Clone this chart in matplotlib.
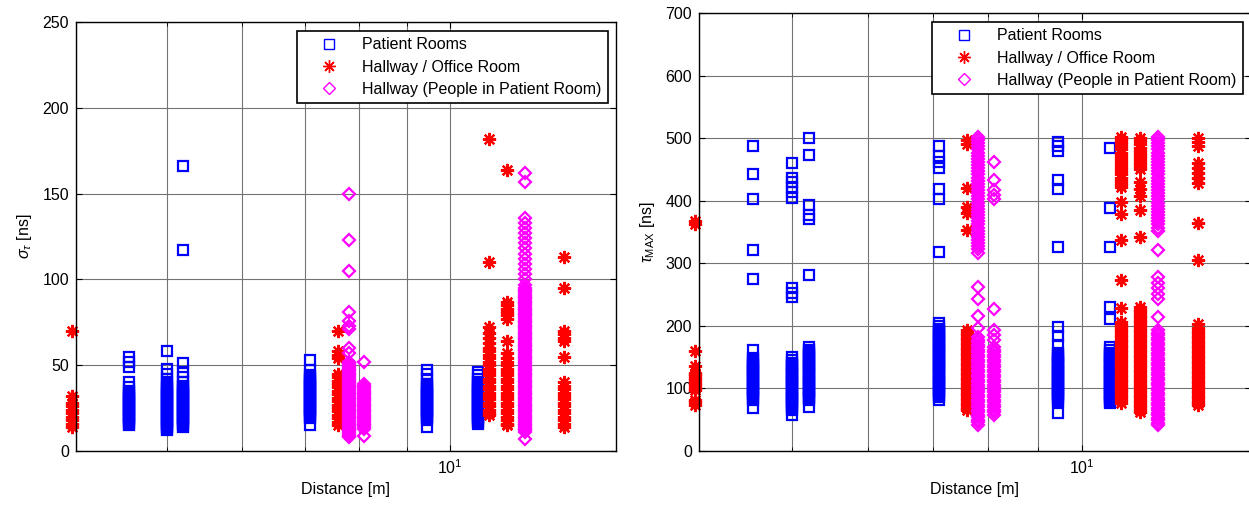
import matplotlib
matplotlib.use('Agg')
import matplotlib.pyplot as plt
from matplotlib.ticker import LogLocator, NullFormatter, FixedLocator

plt.rcParams['font.family'] = ['Liberation Sans', 'DejaVu Sans']
plt.rcParams['mathtext.fontset'] = 'custom'
plt.rcParams['mathtext.rm'] = 'Liberation Sans'
plt.rcParams['mathtext.it'] = 'Liberation Sans:italic'
plt.rcParams['font.size'] = 11.5

labels = ['Patient Rooms', 'Hallway / Office Room', 'Hallway (People in Patient Room)']

# distances [m] of each measurement column
dist_pr = [4.55, 5.0, 5.2, 7.1, 9.45, 10.7]
dist_ho = [3.96, 7.6, 11.0, 11.5, 13.2]
dist_pp = [7.8, 8.1, 12.0]

# RMS delay spread sigma_tau [ns]
sig_pr = [
    [55, 52, 49, 40, 37, 35, 34, 33, 32, 31, 30, 29, 28, 27, 26, 25, 24, 23, 22, 21, 20, 19, 18, 17, 16, 15],
    [58, 48, 45, 42, 40, 38, 37, 36, 35, 34, 33, 32, 31, 30, 29, 28, 27, 26, 25, 24, 23, 22, 21, 20, 19, 18, 17, 16, 15, 14, 13, 12],
    [166, 117, 51, 46, 43, 40, 38, 37, 36, 35, 34, 33, 32, 31, 30, 29, 28, 27, 26, 25, 24, 23, 22, 21, 20, 19, 18, 17, 16, 15, 14],
    [53, 47, 44, 43, 42, 41, 40, 39, 38, 37, 36, 35, 34, 33, 32, 31, 30, 29, 28, 27, 26, 25, 24, 23, 22, 21, 20, 19, 15],
    [47, 45, 42, 39, 38, 37, 36, 35, 34, 33, 32, 31, 30, 29, 28, 27, 26, 25, 24, 23, 22, 21, 20, 19, 18, 14],
    [46, 44, 42, 40, 39, 38, 37, 36, 35, 34, 33, 32, 31, 30, 29, 28, 27, 26, 25, 24, 23, 22, 21, 20, 19, 18, 17, 16],
]
sig_ho = [
    [70, 32, 28, 26, 24, 22, 20, 18, 16, 14],
    [70, 58, 56, 54, 45, 43, 41, 39, 37, 35, 33, 31, 29, 27, 25, 23, 21, 19, 17, 15],
    [182, 110, 72, 69, 66, 63, 60, 58, 56, 54, 52, 50, 48, 46, 44, 42, 40, 38, 36, 34, 32, 30, 28, 26, 24, 22, 21],
    [164, 87, 85, 83, 81, 79, 77, 64, 57, 54, 52, 50, 48, 46, 44, 42, 40, 38, 36, 34, 32, 30, 28, 26, 24, 22, 20, 18, 16, 15],
    [113, 95, 70, 68, 66, 64, 55, 40, 38, 36, 34, 32, 30, 28, 26, 24, 22, 20, 18, 16, 14],
]
sig_pp = [
    [150, 123, 105, 81, 76, 73, 71, 60, 57, 52, 51, 50, 49, 48, 47, 46, 45, 44, 43, 42, 41, 40, 39, 38, 37, 36,
     35, 34, 33, 32, 31, 30, 29, 28, 27, 26, 25, 24, 23, 22, 21, 20, 19, 18, 17, 16, 15, 14, 13, 12, 11, 10, 9, 8],
    [52, 39, 38, 37, 36, 35, 34, 33, 32, 31, 30, 29, 28, 27, 26, 25, 24, 23, 22, 21, 20, 19, 18, 17, 16, 15, 14, 13, 9],
    [162, 157, 136, 133, 130, 127, 124, 121, 118, 115, 112, 109, 106, 103, 100, 97, 95, 94, 93, 92, 91, 90, 89, 88,
     87, 86, 85, 84, 83, 82, 81, 80, 79, 78, 77, 76, 75, 74, 73, 72, 71, 70, 69, 68, 67, 66, 65, 64, 63, 62, 61, 60,
     59, 58, 57, 56, 55, 54, 53, 52, 51, 50, 49, 48, 47, 46, 45, 44, 43, 42, 41, 40, 39, 38, 37, 36, 35, 34, 33, 32,
     31, 30, 29, 28, 27, 26, 25, 24, 23, 22, 21, 20, 19, 18, 17, 16, 15, 14, 13, 12, 11, 7],
]

# maximum excess delay tau_MAX [ns]
tau_pr = [
    [487, 442, 402, 321, 275, 162, 148, 145, 142, 139, 136, 133, 130, 127, 124, 121, 118, 115, 112, 109, 106, 103,
     100, 97, 94, 91, 88, 85, 82, 69],
    [460, 437, 430, 422, 414, 405, 261, 253, 246, 150, 145, 141, 138, 135, 132, 129, 126, 123, 120, 117, 114, 111,
     108, 105, 102, 99, 96, 93, 90, 87, 84, 81, 78, 75, 72, 69, 66, 58],
    [500, 473, 393, 377, 370, 281, 166, 162, 159, 156, 153, 150, 147, 144, 141, 138, 135, 132, 129, 126, 123, 120,
     117, 114, 111, 108, 105, 102, 99, 96, 93, 90, 87, 84, 81, 71],
    [488, 471, 462, 452, 418, 402, 318, 205, 199, 195, 192, 189, 186, 183, 180, 177, 174, 171, 168, 165, 162, 159,
     156, 153, 150, 147, 144, 141, 138, 135, 132, 129, 126, 123, 120, 117, 114, 111, 108, 105, 102, 99, 96, 93, 90,
     87, 82],
    [494, 487, 480, 433, 418, 326, 198, 183, 170, 157, 154, 151, 148, 145, 142, 139, 136, 133, 130, 127, 124, 121,
     118, 115, 112, 109, 106, 103, 100, 97, 94, 91, 88, 85, 82, 78, 60],
    [485, 388, 326, 230, 211, 166, 161, 157, 154, 151, 148, 145, 142, 139, 136, 133, 130, 127, 124, 121, 118, 115,
     112, 109, 106, 103, 100, 97, 94, 91, 88, 85, 82, 79, 77],
]
tau_ho = [
    [367, 362, 160, 136, 125, 121, 117, 113, 109, 105, 101, 97, 82, 78, 74],
    [497, 490, 420, 390, 380, 353, 193, 189, 185, 181, 177, 173, 169, 165, 161, 157, 153, 149, 145, 141, 137, 133,
     129, 125, 121, 117, 113, 109, 105, 101, 97, 93, 89, 85, 81, 77, 73, 69, 66],
    [502, 497, 492, 487, 482, 477, 472, 467, 462, 457, 452, 447, 442, 437, 432, 427, 422, 398, 378, 337, 273, 228,
     206, 202, 198, 194, 190, 186, 182, 178, 174, 170, 166, 162, 158, 154, 150, 146, 142, 138, 134, 130, 126, 122,
     118, 114, 110, 106, 102, 98, 94, 90, 86, 82, 77],
    [500, 495, 490, 485, 480, 475, 470, 465, 460, 455, 450, 430, 418, 408, 385, 342, 230, 226, 222, 218, 214, 210,
     206, 202, 198, 194, 190, 186, 182, 178, 174, 170, 166, 162, 158, 154, 150, 146, 142, 138, 134, 130, 126, 122,
     118, 114, 110, 106, 102, 98, 94, 90, 86, 82, 78, 74, 70, 66, 62],
    [500, 494, 488, 460, 452, 444, 436, 429, 364, 306, 203, 196, 192, 188, 184, 180, 176, 172, 168, 164, 160, 156,
     152, 148, 144, 140, 136, 132, 128, 124, 120, 116, 112, 108, 104, 100, 96, 92, 88, 84, 80, 76, 74],
]
tau_pp = [
    [502, 497, 492, 487, 482, 477, 472, 467, 462, 457, 452, 447, 442, 437, 432, 427, 422, 417, 412, 407, 402, 397,
     392, 387, 382, 377, 372, 367, 362, 357, 352, 347, 342, 337, 332, 327, 322, 316, 262, 243, 216, 196, 182, 178,
     174, 170, 166, 162, 158, 154, 150, 146, 142, 138, 134, 130, 126, 122, 118, 114, 110, 106, 102, 98, 94, 90, 86,
     82, 78, 74, 70, 66, 62, 58, 54, 50, 46, 42],
    [462, 433, 417, 409, 402, 227, 193, 185, 177, 166, 162, 158, 154, 150, 146, 142, 138, 134, 130, 126, 122, 118,
     114, 110, 106, 102, 98, 94, 90, 86, 82, 78, 74, 70, 66, 62, 58],
    [502, 497, 492, 487, 482, 477, 472, 467, 462, 457, 452, 447, 442, 437, 432, 427, 422, 417, 412, 407, 402, 397,
     392, 387, 382, 377, 372, 367, 362, 357, 352, 321, 278, 269, 260, 251, 243, 214, 193, 189, 185, 181, 177, 173,
     169, 165, 161, 157, 153, 149, 145, 141, 137, 133, 129, 125, 121, 117, 113, 109, 105, 101, 97, 93, 89, 85, 81,
     77, 73, 69, 65, 61, 57, 53, 49, 45, 42],
]

sq = dict(ls='none', marker='s', ms=7.5, mfc='none', mec=(0, 0, 1), mew=1.6, clip_on=False)
st = dict(ls='none', marker=(8, 2, 0), ms=9.5, mec=(1, 0, 0), mew=1.6, clip_on=False)
dm = dict(ls='none', marker='D', ms=6.5, mfc='none', mec=(1, 0, 1), mew=1.6, clip_on=False)


def draw_panel(ax, pr, ho, pp, ymax, ylabel, leg_anchor):
    for i, (d, v) in enumerate(zip(dist_pr, pr)):
        ax.plot([d] * len(v), v, label=labels[0] if i == 0 else '_nolegend_', **sq)
    for i, (d, v) in enumerate(zip(dist_ho, ho)):
        ax.plot([d] * len(v), v, label=labels[1] if i == 0 else '_nolegend_', **st)
    for i, (d, v) in enumerate(zip(dist_pp, pp)):
        ax.plot([d] * len(v), v, label=labels[2] if i == 0 else '_nolegend_', **dm)
    ax.set_xscale('log')
    ax.set_xlim(4, 15)
    ax.set_ylim(0, ymax)
    ax.xaxis.set_major_locator(FixedLocator([10]))
    ax.xaxis.set_minor_locator(LogLocator(base=10, subs=(2, 3, 4, 5, 6, 7, 8, 9)))
    ax.xaxis.set_minor_formatter(NullFormatter())
    ax.grid(True, which='both', axis='x', color='0.45', lw=0.8)
    ax.grid(True, which='major', axis='y', color='0.45', lw=0.8)
    ax.set_axisbelow(True)
    ax.tick_params(which='both', direction='in', top=True, right=True, labelsize=11.5, pad=5)
    ax.tick_params(which='major', length=4)
    ax.tick_params(which='minor', length=3)
    for s in ax.spines.values():
        s.set_linewidth(1.0)
    ax.set_xlabel('Distance [m]', fontsize=11.5, labelpad=4)
    ax.set_ylabel(ylabel, fontsize=11.5, labelpad=6)
    leg = ax.legend(loc='upper right', bbox_to_anchor=leg_anchor, bbox_transform=ax.figure.transFigure,
                    frameon=True, fancybox=False, edgecolor='black', framealpha=1, numpoints=1,
                    borderpad=0.4, labelspacing=0.45, handlelength=3.2, handletextpad=0.5,
                    fontsize=11.5, borderaxespad=0, markerscale=0.95)
    leg.get_frame().set_linewidth(1.2)
    for h in leg.legend_handles:
        h.set_markeredgewidth(1.0)


fig = plt.figure(figsize=(12.49, 5.05), dpi=100)
ax1 = fig.add_axes([0.0608, 0.107, 0.4323, 0.8495])
ax2 = fig.add_axes([0.5596, 0.107, 0.442, 0.8673])

draw_panel(ax1, sig_pr, sig_ho, sig_pp, 250, r'$\sigma_\tau$ [ns]', (0.4868, 0.9386))
draw_panel(ax2, tau_pr, tau_ho, tau_pp, 700, r'$\tau_{\rm MAX}$ [ns]', (0.9952, 0.9564))
ax1.set_yticks([0, 50, 100, 150, 200, 250])
ax2.set_yticks([0, 100, 200, 300, 400, 500, 600, 700])

fig.savefig('out.png', dpi=100)
